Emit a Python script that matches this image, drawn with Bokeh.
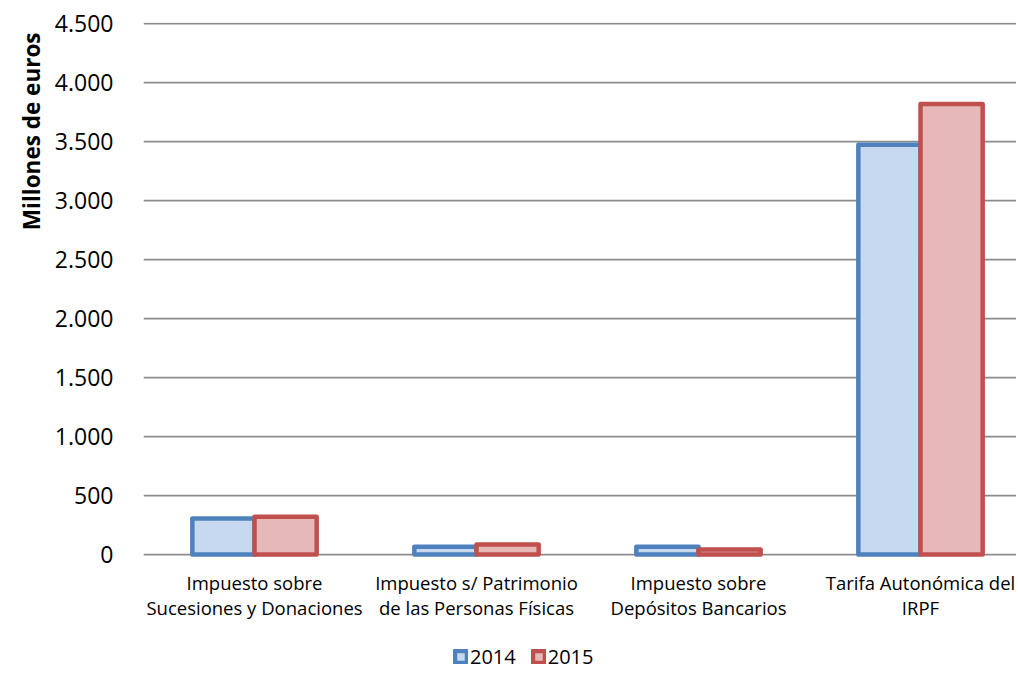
from bokeh.plotting import figure
from bokeh.models import ColumnDataSource, FixedTicker, Legend, LegendItem, Title
from bokeh.core.properties import value
from bokeh.embed import file_html
from bokeh.resources import INLINE

categories = ["Impuesto sobre\nSucesiones y Donaciones",
              "Impuesto s/ Patrimonio\nde las Personas Físicas",
              "Impuesto sobre\nDepósitos Bancarios",
              "Tarifa Autonómica del\nIRPF"]
series_2014 = [305, 65, 65, 3475]
series_2015 = [320, 85, 42, 3820]
series_names = ["2014", "2015"]
y_ticks = [0, 500, 1000, 1500, 2000, 2500, 3000, 3500, 4000, 4500]
y_tick_labels = ["0", "500", "1.000", "1.500", "2.000", "2.500", "3.000", "3.500", "4.000", "4.500"]

FONT = "Open Sans"
W, H = 1016, 672
LEFT, TOP, ZERO_Y = 143, 22, 554
SLOT = 222.0
Y_END = 4512.0
UNIT = Y_END / (ZERO_Y - TOP)          # data units per pixel (vertical)
y_start = -(H - ZERO_Y) * UNIT

centers = [i + 0.5 for i in range(len(categories))]
src = ColumnDataSource(dict(x14=[c - 0.14 for c in centers],
                            x15=[c + 0.14 for c in centers],
                            v14=series_2014, v15=series_2015))

x_end = (W - LEFT) / SLOT
p = figure(width=W, height=H, x_range=(0, x_end), y_range=(y_start, Y_END),
           output_backend="svg", toolbar_location=None,
           min_border_left=LEFT, min_border_right=0, min_border_top=TOP,
           min_border_bottom=0)
p.outline_line_color = None
p.xaxis.visible = False

r14 = p.vbar(x="x14", top="v14", width=0.28, source=src,
             fill_color="#C6D9F1", line_color="#4F81BD", line_width=4.5, line_join="round")
r15 = p.vbar(x="x15", top="v15", width=0.28, source=src,
             fill_color="#E6B9B8", line_color="#C0504D", line_width=4.5, line_join="round")

p.xgrid.grid_line_color = None
p.ygrid.ticker = FixedTicker(ticks=y_ticks)
p.ygrid.grid_line_color = "#8C8C8C"
p.ygrid.grid_line_width = 1.75
p.ygrid.level = "underlay"

p.yaxis.ticker = FixedTicker(ticks=y_ticks)
p.yaxis.major_label_overrides = {t: l for t, l in zip(y_ticks, y_tick_labels)}
p.yaxis.axis_line_color = None
p.yaxis.major_tick_line_color = None
p.yaxis.minor_tick_line_color = None
p.yaxis.major_label_text_font = FONT
p.yaxis.major_label_text_font_size = "23px"
p.yaxis.major_label_text_color = "black"
p.yaxis.major_label_standoff = 24

p.add_layout(Title(text="Millones de euros", align="right", text_font=FONT,
                   text_font_style="bold", text_font_size="22.5px", text_color="black",
                   offset=10), "left")

# category labels (two lines each) below the zero line
line1 = [c.split("\n")[0] for c in categories]
line2 = [c.split("\n")[1] for c in categories]
lab = ColumnDataSource(dict(x=centers, t1=line1, t2=line2,
                            y1=[-(582 - ZERO_Y) * UNIT] * len(centers),
                            y2=[-(607 - ZERO_Y) * UNIT] * len(centers)))
for col, ycol in (("t1", "y1"), ("t2", "y2")):
    p.text(x="x", y=ycol, text=col, source=lab,
           text_font=value(FONT), text_font_size="18.5px", text_color="black",
           text_align="center", text_baseline="middle")

legend = Legend(items=[LegendItem(label=series_names[0], renderers=[r14]),
                       LegendItem(label=series_names[1], renderers=[r15])],
                orientation="horizontal", location=(310, 2),
                label_text_font=FONT, label_text_font_size="20px", label_text_color="black",
                glyph_width=15, glyph_height=15, label_standoff=2, spacing=15,
                border_line_color=None, background_fill_alpha=0, margin=0, padding=2)
p.add_layout(legend)

open("out.html", "w").write(file_html(p, INLINE))
